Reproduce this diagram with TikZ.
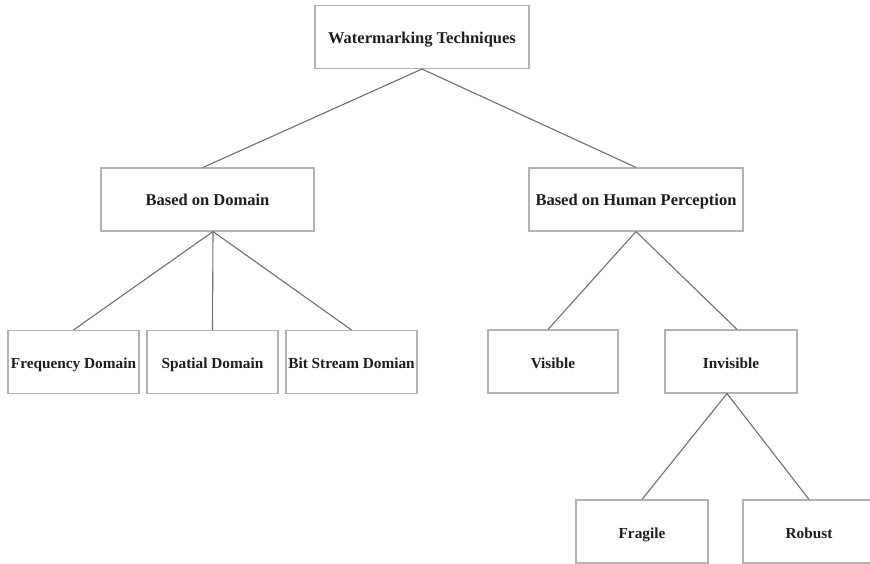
\documentclass[tikz,border=0pt]{standalone}
\usepackage{fontspec}
\setmainfont{Liberation Serif}
\definecolor{boxgray}{RGB}{178,178,178}
\definecolor{linkgray}{RGB}{112,112,112}
\definecolor{inkgray}{RGB}{30,30,30}
\tikzset{
  box/.style={draw=boxgray,line width=1.1pt,fill=white,inner sep=0pt,
    minimum width=131pt,minimum height=63pt,text=inkgray,
    text height=13pt,text depth=0pt,
    font=\fontsize{15.3}{18}\selectfont\bfseries},
  wide/.style={box,minimum width=214pt,font=\fontsize{16.5}{19}\selectfont\bfseries},
  link/.style={draw=linkgray,line width=1.1pt}
}
\begin{document}
\begin{tikzpicture}[x=1pt,y=-1pt]
  \useasboundingbox[fill=white] (0,0) rectangle (870,564);

  \node[wide] (top) at (422,37) {Watermarking Techniques};
  \node[wide,minimum width=213pt] (dom) at (207.5,199.5) {Based on Domain};
  \node[wide] (hp) at (636,199.5) {Based on Human Perception};

  \node[box] (freq) at (73.5,362) {Frequency Domain};
  \node[box] (spat) at (212.5,362) {Spatial Domain};
  \node[box] (bits) at (351.5,362) {Bit Stream Domian};

  \node[box,minimum width=130pt] (vis) at (553,361.5) {Visible};
  \node[box,minimum width=132pt] (invis) at (731,361.5) {Invisible};

  \node[box,minimum width=132pt] (frag) at (642,531.5) {Fragile};
  \node[box,minimum width=132pt] (rob) at (809,531.5) {Robust};

  % connectors
  \draw[link] (top.south) -- ([xshift=-4.5]dom.north);
  \draw[link] (top.south) -- (hp.north);
  \draw[link] ([xshift=5.5]dom.south) -- (freq.north);
  \draw[link] ([xshift=5.5]dom.south) -- (spat.north);
  \draw[link] ([xshift=5.5]dom.south) -- (bits.north);
  \draw[link] (hp.south) -- ([xshift=-5]vis.north);
  \draw[link] (hp.south) -- ([xshift=6]invis.north);
  \draw[link] ([xshift=-4]invis.south) -- (frag.north);
  \draw[link] ([xshift=-4]invis.south) -- (rob.north);
\end{tikzpicture}
\end{document}
